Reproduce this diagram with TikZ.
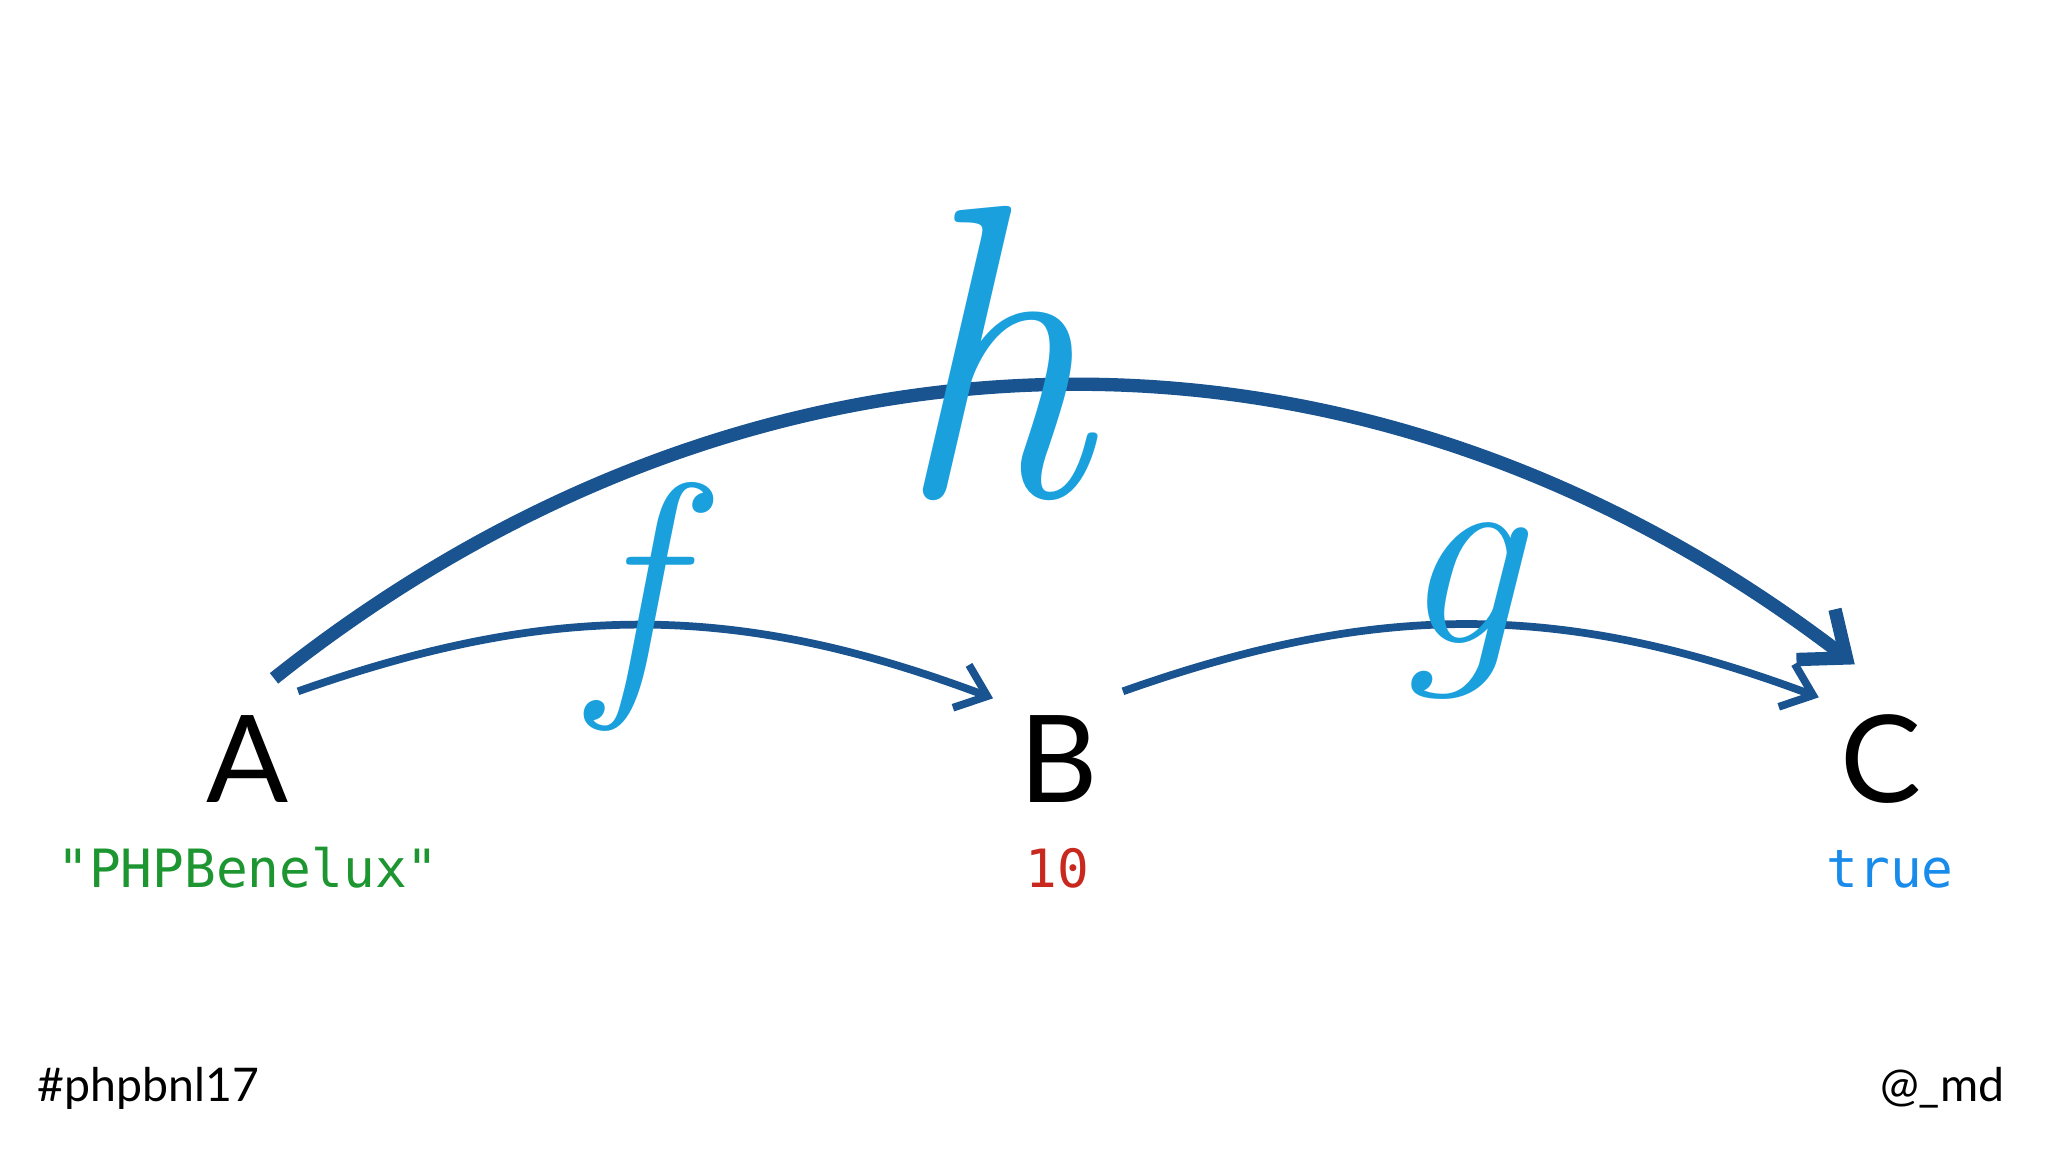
\documentclass[tikz,border=0pt]{standalone}
\usepackage{fontspec}
\setsansfont{Lato}
\setmonofont{DejaVu Sans Mono}
\usetikzlibrary{arrows.meta}
\definecolor{mapblue}{RGB}{26,84,144}
\definecolor{fnblue}{RGB}{27,160,222}
\definecolor{strgreen}{RGB}{29,150,50}
\definecolor{intred}{RGB}{200,40,30}
\definecolor{boolblue}{RGB}{25,140,235}
\tikzset{
	obj/.style={inner sep=0pt,anchor=base,font=\fontsize{34.5}{40}\selectfont\sffamily},
	val/.style={inner sep=0pt,anchor=base,font=\fontsize{15}{18}\selectfont\ttfamily},
	fname/.style={inner sep=0pt,text=fnblue},
	map/.style={draw=mapblue,line width=2.2pt,-{Straight Barb[length=8pt,width=13pt]}},
	bigmap/.style={draw=mapblue,line width=3.8pt,-{Straight Barb[length=11pt,width=18pt]}},
	foot/.style={inner sep=0pt,font=\fontsize{13.2}{16}\selectfont\sffamily}
}
\begin{document}
\begin{tikzpicture}[x=0.01cm,y=0.01cm]
	\fill[white] (0,0) rectangle (2048,1152);
	\useasboundingbox (0,0) rectangle (2048,1152);
	% objects and values
	\node[obj] (A) at (248,349) {A};
	\node[obj] (B) at (1059,349) {B};
	\node[obj] (C) at (1881,349) {C};
	\node[val,text=strgreen] (vA) at (248,264) {"PHPBenelux"};
	\node[val,text=intred] (vB) at (1057,264) {10};
	\node[val,text=boolblue] (vC) at (1890,264) {true};
	% arrows
	\draw[map] ([shift={(50,24)}]A.north) to[bend left=20] ([shift={(-26,17)}]B.north west);
	\draw[map] ([shift={(24,24)}]B.north east) to[bend left=20] ([shift={(-21,17)}]C.north west);
	\draw[bigmap] ([shift={(26,37)}]A.north) to[bend left=38] ([shift={(15,50)}]C.north west);
	% function names
	\node[fname,font=\fontsize{78}{80}\selectfont\itshape] (f) at (633,545) {f};
	\node[fname,font=\fontsize{78}{80}\selectfont\itshape] (g) at (1459,541) {g};
	\node[fname,font=\fontsize{119}{120}\selectfont\itshape] (h) at (992,799) {\scalebox{0.93}[1]{h}};
	% footer
	\node[foot,anchor=base west] (tag) at (37,50) {\#phpbnl17};
	\node[foot,anchor=base east] (handle) at (2005,50) {@\_md};
\end{tikzpicture}
\end{document}
